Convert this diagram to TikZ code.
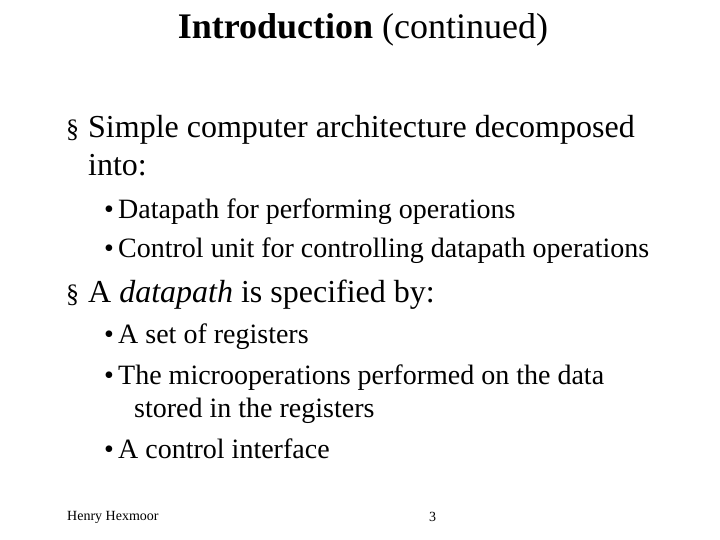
\documentclass[tikz,border=0pt]{standalone}
\usepackage{fontspec}
\setmainfont{Liberation Serif}
\tikzset{
  lvlone/.style={anchor=west, inner sep=0pt, text height=0.7em, text depth=0.2em, font=\fontsize{32}{36}\selectfont},
  lvltwo/.style={anchor=west, inner sep=0pt, text height=0.7em, text depth=0.2em, font=\fontsize{28}{32}\selectfont},
  foot/.style={anchor=west, inner sep=0pt, font=\fontsize{14}{16}\selectfont}
}
\begin{document}
\begin{tikzpicture}[x=1pt,y=-1pt]
    \useasboundingbox (0,0) rectangle (720,540);

    \node[inner sep=0pt, font=\fontsize{36}{40}\selectfont] (title) at (363,30) {\textbf{Introduction} (continued)};

    % first point
    \node[lvlone] (m1) at (66,135) {\fontsize{26}{28}\selectfont\S};
    \node[lvlone] (t1) at (88,135) {Simple computer architecture decomposed};
    \node[lvlone] (t1b) at (88,173) {into:};
    \node[lvltwo] (b1) at (104,216) {\textbullet};
    \node[lvltwo] (s1) at (118,216) {Datapath for performing operations};
    \node[lvltwo] (b2) at (104,255) {\textbullet};
    \node[lvltwo] (s2) at (118,255) {Control unit for controlling datapath operations};

    % second point
    \node[lvlone] (m2) at (66,300) {\fontsize{26}{28}\selectfont\S};
    \node[lvlone] (t2) at (88,300) {A \textit{datapath} is specified by:};
    \node[lvltwo] (b3) at (104,341) {\textbullet};
    \node[lvltwo] (s3) at (118,341) {A set of registers};
    \node[lvltwo] (b4) at (104,382) {\textbullet};
    \node[lvltwo] (s4) at (118,382) {The microoperations performed on the data};
    \node[lvltwo] (s4b) at (134,415) {stored in the registers};
    \node[lvltwo] (b5) at (104,456) {\textbullet};
    \node[lvltwo] (s5) at (118,456) {A control interface};

    % footer
    \node[foot] (author) at (67,517) {Henry Hexmoor};
    \node[foot] (page) at (429,517) {3};
\end{tikzpicture}
\end{document}
